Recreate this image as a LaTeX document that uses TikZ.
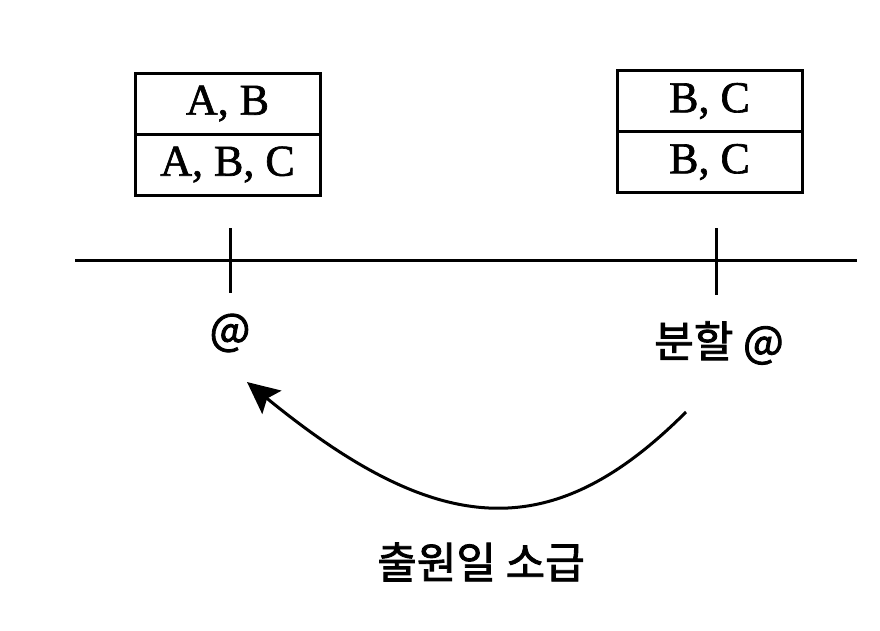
\documentclass[tikz,border=0pt]{standalone}
\usepackage{fontspec}
\setmainfont{Liberation Serif}
\newfontfamily\boxfont{Liberation Serif}[FakeBold=1.5]
\newfontfamily\kr{Noto Sans CJK KR}[FakeBold=2]
\usetikzlibrary{arrows.meta}
\begin{document}
\begin{tikzpicture}[x=1pt,y=-1pt,
  cell/.style={draw,line width=3pt,outer sep=0pt,minimum width=185pt,minimum height=61pt,inner sep=0pt,
    font=\boxfont\fontsize{44}{50}\selectfont},
  lbl/.style={font=\kr\fontsize{43}{50}\selectfont,inner sep=0pt},
  axis/.style={line width=3pt}]
\useasboundingbox (0,0) rectangle (880,630);
% boxes
\node[cell] (lt) at (227.5,103.5) {A, B};
\node[cell,anchor=north] (lb) at (lt.south) {A, B, C};
\node[cell] (rt) at (709.5,101) {B, C};
\node[cell,anchor=north] (rb) at (rt.south) {B, C};
% axis
\coordinate (al) at (75,260);
\coordinate (ar) at (857,260);
\draw[axis] (al) -- (ar);
\coordinate (t1a) at (230,228);
\coordinate (t1b) at (230,293);
\coordinate (t2a) at (716,228);
\coordinate (t2b) at (716,295);
\draw[axis] (t1a) -- (t1b);
\draw[axis] (t2a) -- (t2b);
% labels
\node[lbl] (at1) at (230,333) {@};
\node[lbl] (at2) at (719,343) {분할 @};
\node[lbl] (back) at (481,562) {출원일 소급};
% arrow
\coordinate (s) at (686,412);
\coordinate (e) at (247,382);
\draw[line width=3pt,-{Stealth[length=32pt,width=30pt,inset=6pt]}]
  (s) .. controls (553,545) and (440,540) .. (e);
\end{tikzpicture}
\end{document}
